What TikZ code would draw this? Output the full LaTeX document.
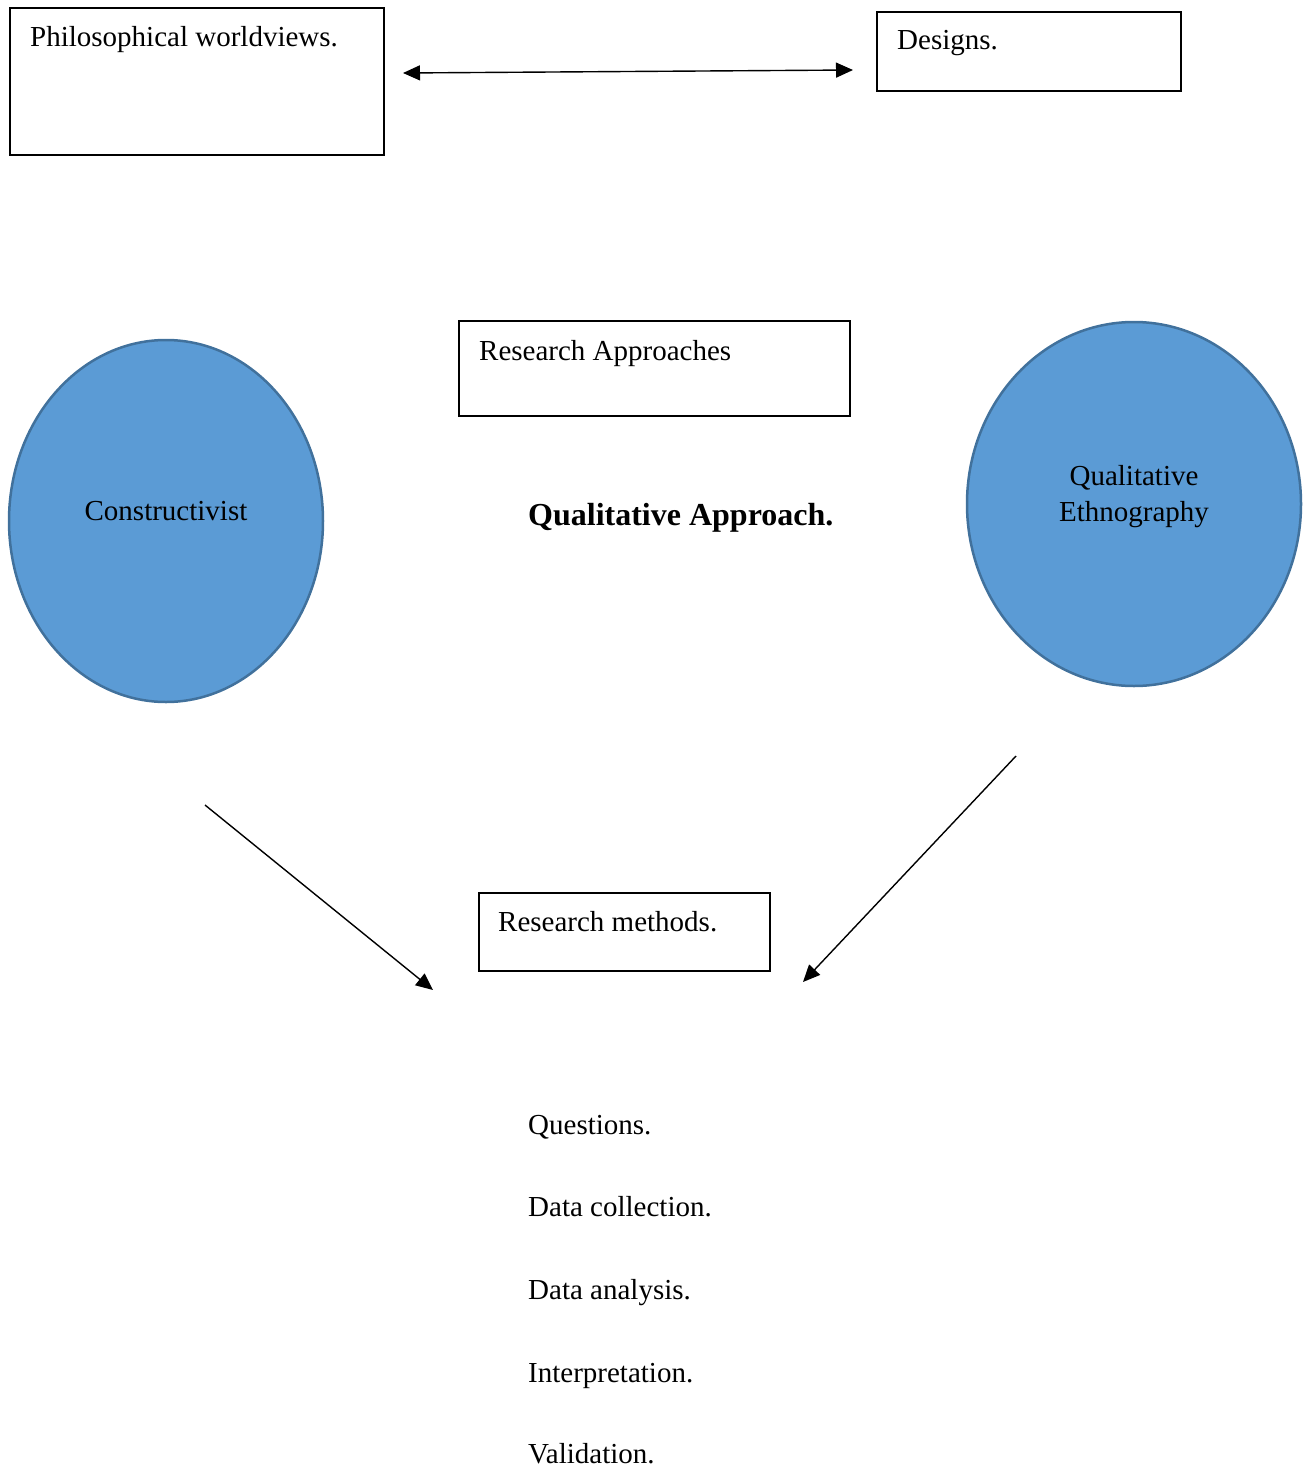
\documentclass[tikz,border=0pt]{standalone}
\usepackage{fontspec}
\setmainfont{Liberation Serif}
\usetikzlibrary{arrows.meta,shapes.geometric}
\definecolor{bluefill}{HTML}{5B9BD5}
\definecolor{blueline}{HTML}{41719C}
\tikzset{
  boxnode/.style={draw=black, line width=2pt, inner sep=0pt, anchor=north west},
  ovalnode/.style={ellipse, draw=blueline, fill=bluefill, line width=2.5pt, inner sep=0pt},
  txt/.style={anchor=base west, inner sep=0pt, font=\fontsize{29}{34}\selectfont},
  conn/.style={line width=1.4pt, -{Triangle[length=17pt,width=15pt]}},
  dconn/.style={line width=1.4pt, {Triangle[length=17pt,width=15pt]}-{Triangle[length=17pt,width=15pt]}}
}
\begin{document}
\begin{tikzpicture}[x=1pt,y=-1pt]
\useasboundingbox (0,0) rectangle (1302,1469);
% boxes
\node[boxnode, minimum width=374pt, minimum height=147pt] (philbox) at (9,7) {};
\node[txt] (phil) at (30,47) {Philosophical worldviews.};
\node[boxnode, minimum width=304pt, minimum height=79pt] (desbox) at (876,11) {};
\node[txt] (des) at (897,50) {Designs.};
\node[boxnode, minimum width=391pt, minimum height=95pt] (rabox) at (458,320) {};
\node[txt] (ra) at (479,360) {Research Approaches};
\node[boxnode, minimum width=291pt, minimum height=78pt] (rmbox) at (478,892) {};
\node[txt] (rm) at (498,931) {Research methods.};
% ellipses
\node[ovalnode, minimum width=314pt, minimum height=362pt] (cons) at (166,521) {};
\node[txt, anchor=base] (constxt) at (166,520) {Constructivist};
\node[ovalnode, minimum width=334pt, minimum height=364pt] (qual) at (1134,504) {};
\node[txt, anchor=base] (qualtxt1) at (1134,485) {Qualitative};
\node[txt, anchor=base] (qualtxt2) at (1134,521) {Ethnography};
% bold title
\node[txt, font=\fontsize{32}{38}\selectfont\bfseries] (qa) at (528,525) {Qualitative Approach.};
% list
\node[txt] (l1) at (528,1134) {Questions.};
\node[txt] (l2) at (528,1216) {Data collection.};
\node[txt] (l3) at (528,1299) {Data analysis.};
\node[txt] (l4) at (528,1382) {Interpretation.};
\node[txt] (l5) at (528,1463) {Validation.};
% arrows
\coordinate (dA) at (403,73);
\coordinate (dB) at (853,70);
\draw[dconn] (dA) -- (dB);
\coordinate (lA) at (205,805);
\coordinate (lB) at (433,990);
\draw[conn] (lA) -- (lB);
\coordinate (rA) at (1016,756);
\coordinate (rB) at (803,982);
\draw[conn] (rA) -- (rB);
\end{tikzpicture}
\end{document}
